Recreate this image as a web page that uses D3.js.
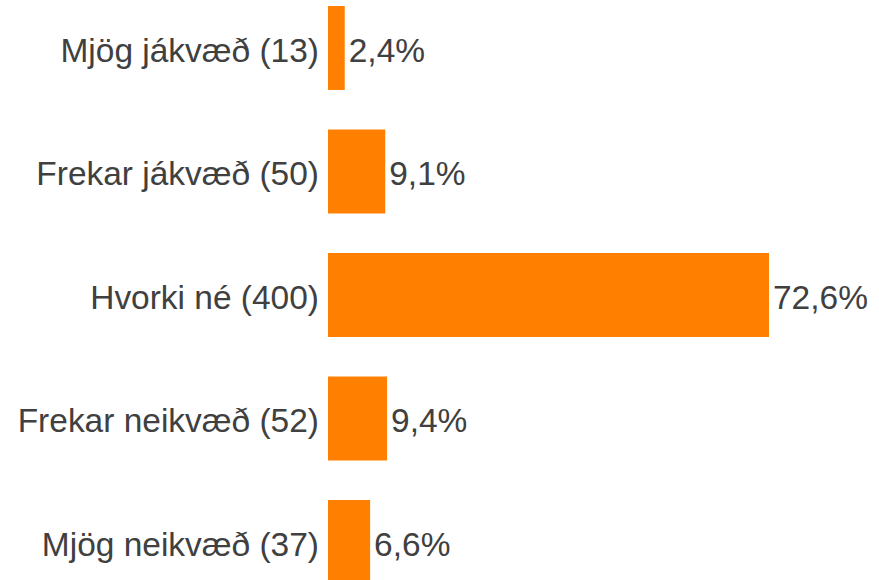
<!DOCTYPE html>
<html>
<head>
<meta charset="utf-8">
<script src="https://cdn.jsdelivr.net/npm/d3@7"></script>
<style>
  body { margin: 0; background: #fff; }
  text { font-family: "Liberation Sans", Arial, sans-serif; fill: #404040; }
</style>
</head>
<body>
<svg id="chart" width="879" height="580"></svg>
<script>
var categories = ["Mjög jákvæð (13)", "Frekar jákvæð (50)", "Hvorki né (400)", "Frekar neikvæð (52)", "Mjög neikvæð (37)"];
var values = [2.4, 9.1, 72.6, 9.4, 6.6];
var valueLabels = ["2,4%", "9,1%", "72,6%", "9,4%", "6,6%"];

var svg = d3.select("#chart");

var x = d3.scaleLinear().domain([-0.37, 72.6]).range([328, 769]);
var y = d3.scaleBand().domain(categories).range([6, 584]).paddingInner(0.32).paddingOuter(0);
var x0 = x(x.domain()[0]);
var stretch = 1.03;

var rows = svg.selectAll("g.row")
  .data(categories.map((c, i) => ({ cat: c, v: values[i], lab: valueLabels[i] })))
  .enter().append("g").attr("class", "row");

rows.append("rect")
  .attr("x", x0)
  .attr("y", d => y(d.cat))
  .attr("width", d => x(d.v) - x0)
  .attr("height", y.bandwidth())
  .attr("fill", "#ff8000");

// category labels, left of bars
rows.append("text")
  .attr("transform", d => "translate(" + (x0 - 9) + "," + (y(d.cat) + y.bandwidth() / 2) + ") scale(" + stretch + ",1)")
  .attr("dy", "0.42em")
  .attr("text-anchor", "end")
  .attr("font-size", 32.5)
  .text(d => d.cat);

// value labels
rows.append("text")
  .attr("transform", d => "translate(" + (x(d.v) + 4) + "," + (y(d.cat) + y.bandwidth() / 2) + ") scale(" + stretch + ",1)")
  .attr("dy", "0.42em")
  .attr("font-size", 32.5)
  .text(d => d.lab);
</script>
</body>
</html>
